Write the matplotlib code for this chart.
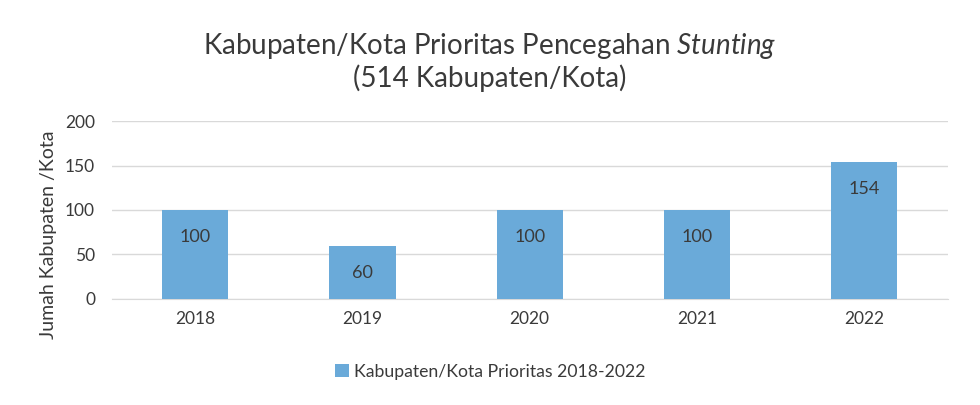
import matplotlib.pyplot as plt

plt.rcParams['font.family'] = ['Lato', 'DejaVu Sans']
plt.rcParams['mathtext.fontset'] = 'custom'
plt.rcParams['mathtext.it'] = 'Lato:italic'
plt.rcParams['mathtext.rm'] = 'Lato'

tahun = ['2018', '2019', '2020', '2021', '2022']
jumlah = [100, 60, 100, 100, 154]
seri = 'Kabupaten/Kota Prioritas 2018-2022'

teks = '#3a3a3a'
biru = '#6aaad9'

fig = plt.figure(figsize=(9.8, 4.05), dpi=100)
ax = fig.add_axes([0.114, 0.262, 0.853, 0.439])

bars = ax.bar(range(len(tahun)), jumlah, width=0.395, color=biru, label=seri, zorder=3)
for b, v in zip(bars, jumlah):
    ax.annotate(str(v), (b.get_x() + b.get_width() / 2, v), xytext=(0, -19.5),
                textcoords='offset points', ha='center', va='center',
                fontsize=13, color=teks)

ax.set_xlim(-0.5, len(tahun) - 0.5)
ax.set_ylim(0, 200)
ax.set_yticks([0, 50, 100, 150, 200])
ax.set_xticks(range(len(tahun)))
ax.set_xticklabels(tahun)
ax.grid(axis='y', color='#d9d9d9', linewidth=1, zorder=0)
for s in ['top', 'right', 'left']:
    ax.spines[s].set_visible(False)
ax.spines['bottom'].set_color('#d9d9d9')
ax.tick_params(length=0, labelsize=12.5, colors=teks, pad=9)
ax.tick_params(axis='y', pad=12)

ax.set_ylabel('Jumah Kabupaten /Kota', fontsize=14, color=teks)
ax.yaxis.set_label_coords(-0.066, 0.36)

fig.text(0.5, 0.887, r'Kabupaten/Kota Prioritas Pencegahan $\it{Stunting}$',
         ha='center', va='center', fontsize=20, color=teks)
fig.text(0.5, 0.808, '(514 Kabupaten/Kota)', ha='center', va='center',
         fontsize=20, color=teks)

fig.legend(loc='center', bbox_to_anchor=(0.5, 0.082), frameon=False,
           fontsize=12.7, labelcolor=teks, handlelength=0.8, handleheight=0.8,
           handletextpad=0.3)

plt.savefig('out.png')
